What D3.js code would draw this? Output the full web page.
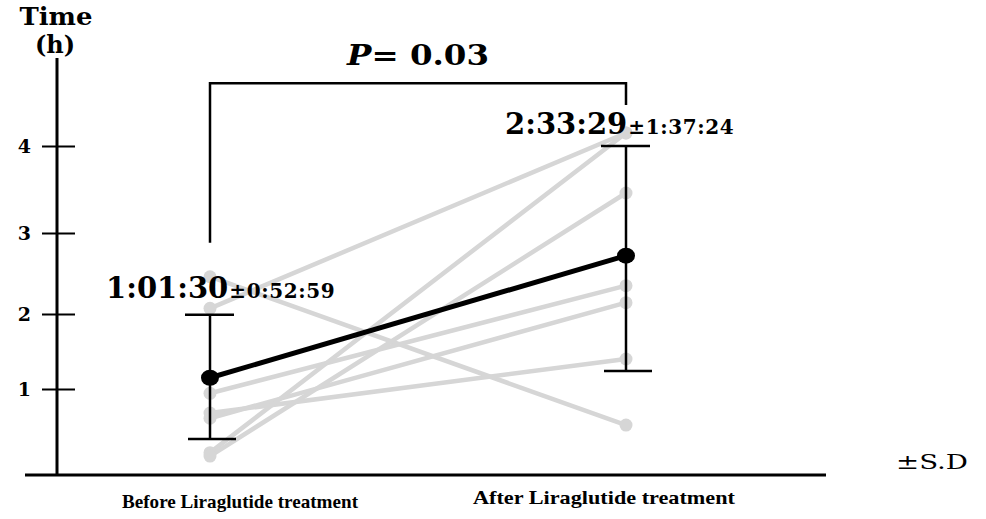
<!DOCTYPE html>
<html>
<head>
<meta charset="utf-8">
<script src="https://cdn.jsdelivr.net/npm/d3@7"></script>
<style>
  body{margin:0;background:#fff;}
  text{fill:#000;}
</style>
</head>
<body>
<script>
(function(){

  //values, in axis units (hours)
  var groups = ["Before Liraglutide treatment", "After Liraglutide treatment"];
  var beforeVals = [2.46, 2.07, 0.95, 0.72, 0.66, 0.26, 0.22]; //each patient before
  var afterVals = [0.58, 4.15, 2.35, 1.40, 2.14, 4.15, 3.46]; //same patient after
  var meanVals = [1.15, 2.72];
  var sdLow = [0.42, 1.24];
  var sdHigh = [1.99, 4.0];
  var meanLabels = ["1:01:30", "2:33:29"];
  var sdLabels = ["\u00b10:52:59", "\u00b11:37:24"];
  var yTicks = [1, 2, 3, 4];
  var pValue = "0.03";
  var bracketVals = [2.88, 4.72, 4.47]; //left foot, top, right foot

  window.onload = drawChart();

  function drawChart(){
    var width = 986,
        height = 519;

    var svg = d3.select("body")
      .append("svg")
      .attr("width", width)
      .attr("height", height);

    //axis in the original is not evenly spaced, so use a piecewise scale
    var y = d3.scaleLinear()
      .domain([0, 1, 2, 3, 4])
      .range([475, 389, 314, 233, 146]);

    var x = d3.scalePoint()
      .domain(groups)
      .range([210, 626]);

    var serif = "'DejaVu Serif', serif";

    //axis titles
    svg.append("text")
      .attr("x", 56).attr("y", 25)
      .attr("text-anchor", "middle")
      .attr("textLength", 73).attr("lengthAdjust", "spacingAndGlyphs")
      .style("font-family", serif).style("font-weight", "bold").style("font-size", "25px")
      .text("Time");
    svg.append("text")
      .attr("x", 55).attr("y", 53)
      .attr("text-anchor", "middle")
      .style("font-family", serif).style("font-weight", "bold").style("font-size", "24px")
      .text("(h)");

    //y axis
    var yAxis = d3.axisLeft(y)
      .tickValues(yTicks)
      .tickSize(15)
      .tickPadding(11)
      .tickFormat(d3.format("d"));

    var gy = svg.append("g")
      .attr("transform", "translate(57,0)")
      .call(yAxis);
    gy.select(".domain").remove();
    gy.selectAll(".tick line")
      .attr("x1", 18)
      .attr("stroke", "#000")
      .attr("stroke-width", 2);
    gy.selectAll(".tick text")
      .style("font-family", serif).style("font-weight", "bold").style("font-size", "19px");

    svg.append("line") //vertical axis line
      .attr("x1", 57).attr("x2", 57)
      .attr("y1", 58).attr("y2", y(0))
      .attr("stroke", "#000").attr("stroke-width", 3);
    svg.append("line") //baseline
      .attr("x1", 25).attr("x2", 826)
      .attr("y1", y(0)).attr("y2", y(0))
      .attr("stroke", "#000").attr("stroke-width", 3);

    //individual patients
    var pairs = beforeVals.map(function(v, i){ return [v, afterVals[i]]; });
    var grey = "#d6d6d6";

    svg.selectAll(".patient")
      .data(pairs)
      .enter()
      .append("line")
      .attr("class", "patient")
      .attr("x1", x(groups[0])).attr("x2", x(groups[1]))
      .attr("y1", function(d){ return y(d[0]); })
      .attr("y2", function(d){ return y(d[1]); })
      .attr("stroke", grey).attr("stroke-width", 4.5)
      .attr("stroke-linecap", "round");

    [beforeVals, afterVals].forEach(function(vals, gi){
      svg.selectAll(".pt" + gi)
        .data(vals)
        .enter()
        .append("circle")
        .attr("class", "pt" + gi)
        .attr("cx", x(groups[gi]))
        .attr("cy", function(d){ return y(d); })
        .attr("r", 6.5)
        .attr("fill", grey);
    });

    //error bars (SD)
    groups.forEach(function(g, i){
      var cx = x(g);
      svg.append("line")
        .attr("x1", cx).attr("x2", cx)
        .attr("y1", y(sdLow[i])).attr("y2", y(sdHigh[i]))
        .attr("stroke", "#000").attr("stroke-width", 2.5);
      svg.append("line")
        .attr("x1", cx - 25).attr("x2", cx + 24)
        .attr("y1", y(sdHigh[i])).attr("y2", y(sdHigh[i]))
        .attr("stroke", "#000").attr("stroke-width", 2.5);
      svg.append("line")
        .attr("x1", cx - 22).attr("x2", cx + 26)
        .attr("y1", y(sdLow[i])).attr("y2", y(sdLow[i]))
        .attr("stroke", "#000").attr("stroke-width", 2.5);
    });

    //mean line
    var meanLine = d3.line()
      .x(function(d, i){ return x(groups[i]); })
      .y(function(d){ return y(d); });

    svg.append("path")
      .datum(meanVals)
      .attr("d", meanLine)
      .attr("fill", "none")
      .attr("stroke", "#000")
      .attr("stroke-width", 5);

    svg.selectAll(".mean")
      .data(meanVals)
      .enter()
      .append("ellipse")
      .attr("class", "mean")
      .attr("cx", function(d, i){ return x(groups[i]); })
      .attr("cy", function(d){ return y(d); })
      .attr("rx", 9).attr("ry", 8)
      .attr("fill", "#000");

    //mean +- SD labels
    var labelX = [106, 505];
    groups.forEach(function(g, i){
      var t = svg.append("text")
        .attr("x", labelX[i])
        .attr("y", y(sdHigh[i]) - (i == 0 ? 17 : 12))
        .style("font-family", serif).style("font-weight", "bold");
      t.append("tspan")
        .style("font-size", "29px")
        .text(meanLabels[i]);
      t.append("tspan")
        .attr("dx", 1)
        .style("font-size", "20px")
        .style("letter-spacing", "0.6px")
        .text(sdLabels[i]);
    });

    //significance bracket
    var bx0 = x(groups[0]), bx1 = x(groups[1]);
    svg.append("path")
      .attr("d", "M" + bx0 + "," + y(bracketVals[0]) +
                 "V" + y(bracketVals[1]) +
                 "H" + bx1 +
                 "V" + y(bracketVals[2]))
      .attr("fill", "none")
      .attr("stroke", "#000")
      .attr("stroke-width", 2.5);

    var p = svg.append("text")
      .attr("x", 347).attr("y", 65)
      .attr("textLength", 142).attr("lengthAdjust", "spacingAndGlyphs")
      .style("font-family", serif).style("font-weight", "bold").style("font-size", "28px");
    p.append("tspan").style("font-style", "italic").text("P");
    p.append("tspan").text("= " + pValue);

    //category labels
    var labelOffset = [30, -22];
    var labelWidth = [236, 262];
    svg.selectAll(".cat")
      .data(groups)
      .enter()
      .append("text")
      .attr("class", "cat")
      .attr("x", function(d, i){ return x(d) + labelOffset[i]; })
      .attr("y", function(d, i){ return i == 0 ? 508 : 504; })
      .attr("text-anchor", "middle")
      .attr("textLength", function(d, i){ return labelWidth[i]; })
      .attr("lengthAdjust", "spacingAndGlyphs")
      .style("font-family", "'Liberation Serif', serif")
      .style("font-weight", "bold")
      .style("font-size", "19px")
      .text(function(d){ return d; });

    svg.append("text")
      .attr("x", 896).attr("y", 469)
      .attr("textLength", 72).attr("lengthAdjust", "spacingAndGlyphs")
      .style("font-family", serif).style("font-size", "21px")
      .text("\u00b1S.D");
  };
})();
</script>
</body>
</html>
